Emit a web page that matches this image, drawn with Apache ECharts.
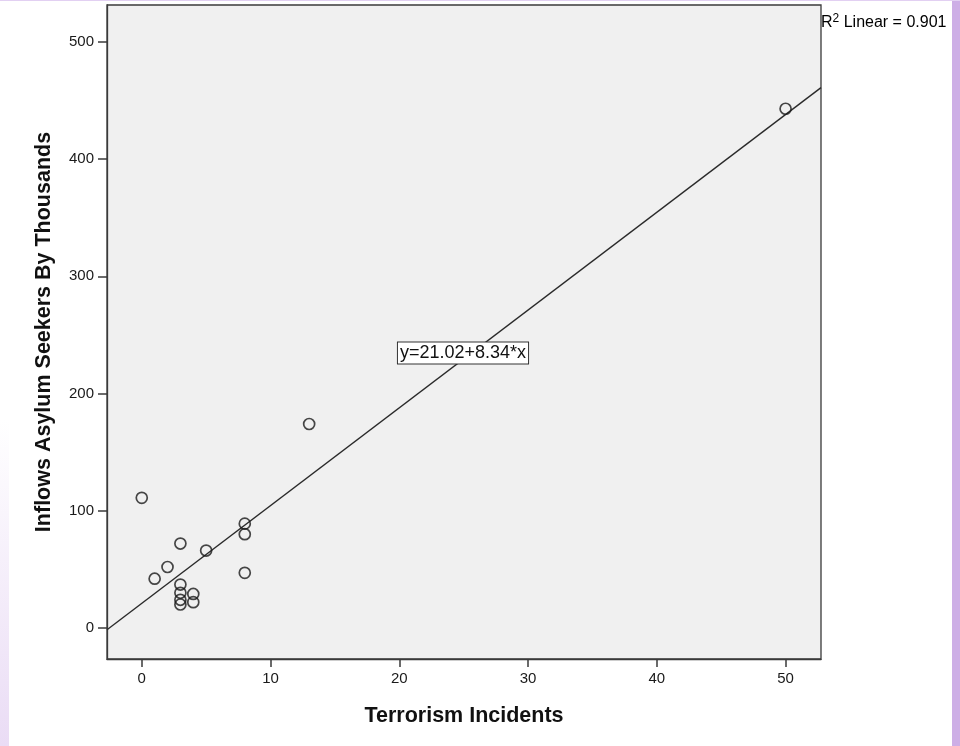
<!DOCTYPE html>
<html>
<head>
<meta charset="utf-8">
<script src="https://cdn.jsdelivr.net/npm/echarts@6/dist/echarts.min.js"></script>
<style>html,body{margin:0;padding:0;background:#fff;}#c{width:960px;height:746px;}</style>
</head>
<body>
<div id="c"></div>
<script>
// Data
var incidents = [0, 1, 2, 3, 3, 3, 3, 3, 4, 4, 5, 8, 8, 8, 13, 50];
var asylum    = [111, 42, 52, 72, 37, 30, 24, 20, 29, 22, 66, 89, 80, 47, 174, 443];
var xTicks = [0, 10, 20, 30, 40, 50];
var yTicks = [0, 100, 200, 300, 400, 500];
var fitIntercept = [21.02];
var fitSlope = [8.34];
var r2Text = ['0.901'];
var xRange = [-2.7, 52.75];
var yRange = [-26.5, 531.5];

var FONT = '"Liberation Sans", Arial, sans-serif';
var chart = echarts.init(document.getElementById('c'), null, {renderer: 'canvas'});

var points = incidents.map(function (x, i) { return [x, asylum[i]]; });
var fitLine = xRange.map(function (x) { return [x, fitIntercept[0] + fitSlope[0] * x]; });
var eqLabel = 'y=' + fitIntercept[0].toFixed(2) + '+' + fitSlope[0].toFixed(2) + '*x';

chart.setOption({
  animation: false,
  backgroundColor: '#ffffff',
  graphic: [
    {type: 'rect', left: 952, top: 0, shape: {width: 8, height: 746}, style: {fill: '#cdaee6'}, z: 0},
    {type: 'rect', left: 0, top: 0, shape: {width: 960, height: 1}, style: {fill: '#e2d0f2'}, z: 0},
    {type: 'rect', left: 0, top: 420, shape: {width: 9, height: 326},
      style: {fill: new echarts.graphic.LinearGradient(0, 0, 0, 1, [
        {offset: 0, color: '#ffffff'}, {offset: 1, color: '#eadcf5'}])}, z: 0},
    {type: 'text', x: 463, y: 353, z: 100,
      style: {text: eqLabel, font: '18px ' + FONT, fill: '#111', align: 'center', verticalAlign: 'middle',
        backgroundColor: '#ffffff', borderColor: '#333', borderWidth: 1, padding: [2, 2, 1, 2]}},
    {type: 'text', x: 821, y: 23, z: 100,
      style: {text: '{a|R}{s|2}{a| Linear = ' + r2Text[0] + '}', align: 'left', verticalAlign: 'middle',
        rich: {
          a: {fontSize: 16, fontFamily: FONT, color: '#111'},
          s: {fontSize: 12, fontFamily: FONT, color: '#111', padding: [0, 0, 8, 0]}
        }}}
  ],
  grid: {left: 107, right: 139, top: 5, bottom: 87, show: true, backgroundColor: '#f0f0f0',
    borderColor: '#3a3a3a', borderWidth: 1.3},
  xAxis: {
    type: 'value', min: xRange[0], max: xRange[1],
    name: 'Terrorism Incidents', nameLocation: 'middle', nameGap: 46,
    nameTextStyle: {fontFamily: FONT, fontSize: 21.5, fontWeight: 'bold', color: '#111'},
    axisLine: {show: true, onZero: false, lineStyle: {color: '#3a3a3a', width: 1.3}},
    axisTick: {show: true, inside: false, length: 8, customValues: xTicks, lineStyle: {color: '#3a3a3a', width: 1.5}},
    axisLabel: {customValues: xTicks, margin: 12, fontFamily: FONT, fontSize: 15, color: '#1a1a1a'},
    splitLine: {show: false}
  },
  yAxis: {
    type: 'value', min: yRange[0], max: yRange[1],
    name: 'Inflows Asylum Seekers By Thousands', nameLocation: 'middle', nameGap: 52,
    nameTextStyle: {fontFamily: FONT, fontSize: 21.5, fontWeight: 'bold', color: '#111'},
    axisLine: {show: true, onZero: false, lineStyle: {color: '#3a3a3a', width: 1.3}},
    axisTick: {show: true, inside: false, length: 9, customValues: yTicks, lineStyle: {color: '#3a3a3a', width: 1.5}},
    axisLabel: {customValues: yTicks, margin: 13, fontFamily: FONT, fontSize: 15, color: '#1a1a1a'},
    splitLine: {show: false}
  },
  series: [
    {type: 'line', data: fitLine, symbol: 'none', silent: true, z: 2,
      lineStyle: {color: '#2a2a2a', width: 1.4}},
    {type: 'scatter', data: points, symbol: 'circle', symbolSize: 11, z: 3,
      itemStyle: {color: 'rgba(0,0,0,0)', borderColor: '#1a1a1a', borderWidth: 1.7}}
  ]
});
</script>
</body>
</html>
